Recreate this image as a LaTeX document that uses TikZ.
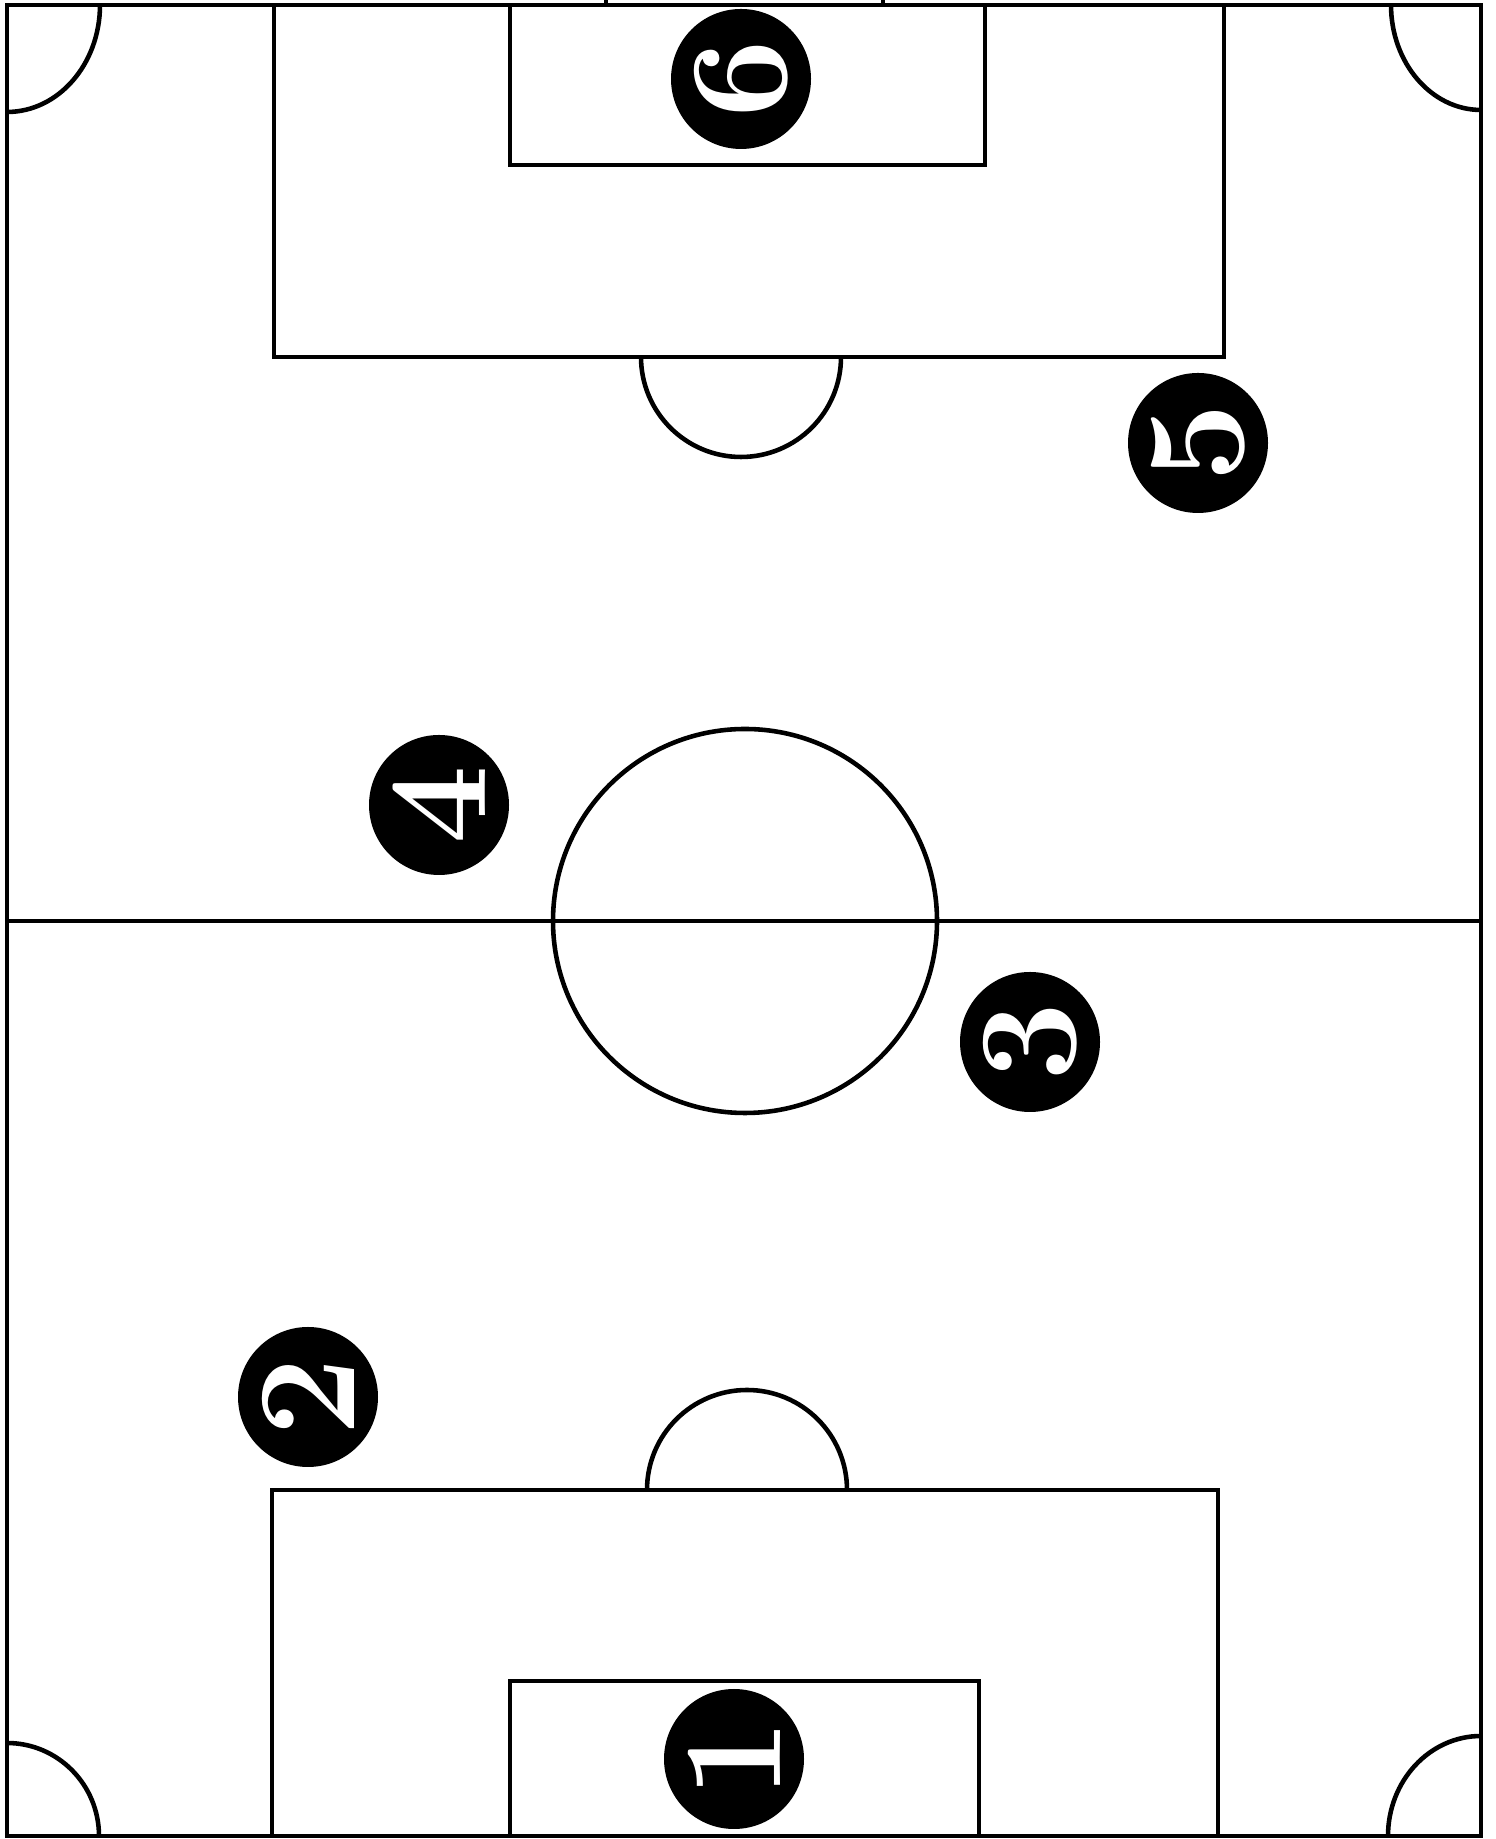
\documentclass[tikz,border=0pt]{standalone}
\usepackage{amsmath}
\usepackage{tikz}
\usetikzlibrary{positioning}

\begin{document}
\begin{tikzpicture}[
    line width=1.3pt,
  player/.style={circle, fill=black, text=white, minimum size=1.4cm, inner sep=0pt, rotate=90, font=\fontsize{40}{42}\selectfont\bfseries},
    pitchline/.style={draw, line width=1.3pt},
]

\useasboundingbox (0,0) rectangle (14.96,18.39);

% outline of the pitch
\draw[pitchline] (0.07,0.03) rectangle (14.81,18.34);

% halfway line and centre circle
\draw[pitchline] (0.07,9.18) -- (14.81,9.18);
\draw[pitchline] (7.45,9.18) circle (1.92);

% top end
\draw[pitchline] (2.74,18.34) |- (12.24,14.82) -- (12.24,18.34);
\draw[pitchline] (5.10,18.34) |- (9.85,16.74) -- (9.85,18.34);
\draw[pitchline] (6.06,18.34) -- (6.06,18.39);
\draw[pitchline] (8.83,18.34) -- (8.83,18.39);
\draw[pitchline] (6.41,14.82) arc (180:360:1.0); % arc of the top box

% bottom end
\draw[pitchline] (2.72,0.03) |- (12.18,3.49) -- (12.18,0.03);
\draw[pitchline] (5.10,0.03) |- (9.79,1.58) -- (9.79,0.03);
\draw[pitchline] (8.47,3.49) arc (0:180:1.0); % arc of the bottom box

% corners
\draw[pitchline] (1.00,18.34) arc (0:-90:0.93 and 1.07);
\draw[pitchline] (14.81,17.29) arc (-90:-180:0.9 and 1.05);
\draw[pitchline] (0.07,0.96) arc (90:0:0.92 and 0.93);
\draw[pitchline] (13.88,0.03) arc (180:90:0.93 and 1.0);

% players
\node[player] (p6) at (7.41,17.60) {6};
\node[player] (p5) at (11.98,13.96) {5};
\node[player] (p4) at (4.39,10.34) {4};
\node[player] (p3) at (10.30,7.97) {3};
\node[player] (p2) at (3.08,4.42) {2};
\node[player] (p1) at (7.34,0.80) {1};

\end{tikzpicture}
\end{document}
